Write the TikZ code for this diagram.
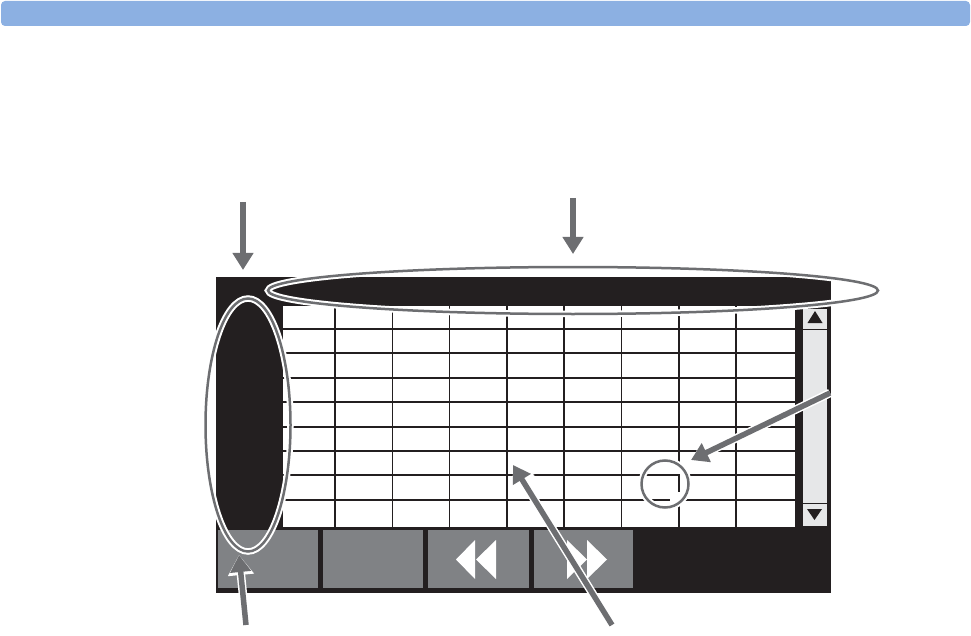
\documentclass[tikz,border=0pt]{standalone}
\usepackage{tikz}
\usetikzlibrary{arrows.meta}
\definecolor{barcol}{HTML}{8CB0E2}
\definecolor{screencol}{HTML}{231F20}
\definecolor{keycol}{HTML}{808285}
\definecolor{scrollcol}{HTML}{E6E7E8}
\definecolor{notecol}{HTML}{6D6E71}

\begin{document}
\begin{tikzpicture}[x=1pt, y=-1pt,
  pointer/.style={notecol, line width=5.5pt,
    -{Triangle[length=17pt,width=20pt]},
    preaction={draw=white, line width=8.5pt, -{Triangle[length=20pt,width=25pt]}}},
  ring/.style={notecol, line width=2.5pt,
    preaction={draw=white, line width=6.5pt}},
  gridline/.style={screencol, line width=2pt}]

\useasboundingbox (0,0) rectangle (971,636);

% ---------------------------------------------------------------- title bar
\fill[barcol, rounded corners=4pt] (1,1) rectangle (970,26);

% ---------------------------------------------------------------- screen
\fill[screencol] (216,277) rectangle (831,593);
\fill[white] (283,306) rectangle (795,527);

% table rules
\foreach \y in {329,353.4,377.8,402.2,426.6,451,475.4,499.8}
  \draw[gridline] (283,\y) -- (795,\y);
\foreach \x in {335,392.3,449.6,506.9,564.2,621.5,678.8,736.1}
  \draw[screencol, line width=1.6pt] (\x,306) -- (\x,527);

% scroll bar
\fill[scrollcol] (803,309) rectangle (827,526);
\draw[screencol, line width=1pt] (803,329) -- (827,329);
\draw[screencol, line width=1pt] (803,503) -- (827,503);
\fill[screencol] (807.5,323) -- (822.5,323) -- (815,311) -- cycle;
\fill[screencol] (807,509) -- (822,509) -- (814.5,520) -- cycle;

% ---------------------------------------------------------------- keys
\foreach \xa/\xb in {218/318, 323/423, 428/529, 534/633}
  \fill[keycol] (\xa,530) rectangle (\xb,588);
% previous / next
\fill[white] (456,559.5) -- (475,540) -- (475,579) -- cycle;
\fill[white] (476,559.5) -- (496,540) -- (496,579) -- cycle;
\fill[white] (587,559.5) -- (567,540) -- (567,579) -- cycle;
\fill[white] (607,559.5) -- (587,540) -- (587,579) -- cycle;

% ---------------------------------------------------------------- call-outs
\draw[ring] (248,425) ellipse [x radius=42.5, y radius=126.5];
\draw[ring] (573,290.5) ellipse [x radius=305, y radius=23.5];

% highlighted cell
\fill[white] (665,484) circle [radius=23.5];
\begin{scope}
  \clip (665,484) circle [radius=23.5];
  \draw[gridline] (640,475.4) -- (679.6,475.4);
  \draw[screencol, line width=1.6pt] (678.8,474.4) -- (678.8,492);
  \draw[gridline] (645,499.8) -- (670,499.8);
\end{scope}
\draw[ring] (665,484) circle [radius=23.5];

\coordinate (colTail)  at (243,202);
\coordinate (colTip)   at (243,270);
\coordinate (headTail) at (573,198);
\coordinate (headTip)  at (573,254);
\coordinate (cellTail) at (830,393);
\coordinate (cellTip)  at (691,460);
\coordinate (gridTail) at (612,625);
\coordinate (gridTip)  at (513,465);
\coordinate (keyTail)  at (246,625);
\coordinate (keyTip)   at (239,555);

\draw[pointer] (colTail) -- (colTip);
\draw[pointer] (headTail) -- (headTip);
\draw[pointer] (cellTail) -- (cellTip);
\draw[pointer] (gridTail) -- (gridTip);
\draw[pointer] (keyTail) -- (keyTip);

\end{tikzpicture}
\end{document}
